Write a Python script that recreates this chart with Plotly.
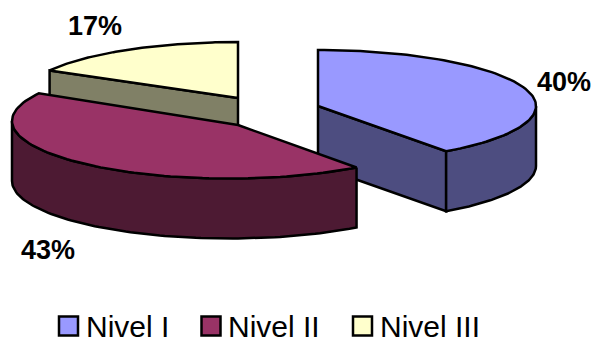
import math
import plotly.graph_objects as go

# Chart data
categories = ["Nivel I", "Nivel II", "Nivel III"]
shares = [40, 43, 17]
top_colors = ["#9999FF", "#993366", "#FFFFCC"]
side_colors = ["#4D4D80", "#4D1A33", "#808066"]

# Oblique-view geometry of each exploded slice, in canvas units:
# apex of the wedge, centre of its rim ellipse, and the ellipse radii
apex = [(318, 106), (238, 125), (238, 98)]
rim_center = [(318, 106), (229, 121), (238, 97)]
rim_radii = [(218, 56), (217, 57.5), (215, 55)]
depth = 60
label_pos = [(564, 82), (48, 250), (95, 26)]
swatch_x = [68.5, 211, 362.5]
legend_text_x = [84, 226, 378]
legend_y = 326

LINE_WIDTH = 2.5


def rim(i, start, end, dy=0, steps=90):
    """Points along slice i's rim between two clockwise angles from 12 o'clock."""
    cx, cy = rim_center[i]
    a, b = rim_radii[i]
    angles = [math.radians(start + (end - start) * k / steps) for k in range(steps + 1)]
    return [(cx + a * math.sin(t), cy - b * math.cos(t) + dy) for t in angles]


def polygon(points, color, name):
    xs = [p[0] for p in points] + [points[0][0]]
    ys = [p[1] for p in points] + [points[0][1]]
    return go.Scatter(x=xs, y=ys, mode="lines", fill="toself", fillcolor=color,
                      line=dict(color="black", width=LINE_WIDTH, shape="linear"),
                      name=name, showlegend=False, hoverinfo="skip")


# Cumulative angles of each slice
angles = []
start = 0.0
for s in shares:
    end = start + s * 360 / sum(shares)
    angles.append((start, end))
    start = end

# The radial cut that faces the viewer: trailing edge for the right slice,
# leading edge for the rear slice, none for the front slice
cut_angle = [angles[0][1], None, angles[2][0]]


def walls(i):
    """Visible side faces of slice i, back to front."""
    s, e = angles[i]
    ax, ay = apex[i]
    faces = []
    if cut_angle[i] is not None:
        rim_pt = rim(i, cut_angle[i], cut_angle[i], steps=1)[0]
        faces.append([(ax, ay), rim_pt, (rim_pt[0], rim_pt[1] + depth), (ax, ay + depth)])
    lo, hi = max(s, 90), min(e, 270)
    if hi > lo:
        # Curved outer wall on the viewer's side
        faces.append(rim(i, lo, hi) + rim(i, lo, hi, dy=depth)[::-1])
    return faces


def top(i):
    s, e = angles[i]
    return [apex[i]] + rim(i, s, e)


fig = go.Figure()
# Painter's order: rear slice, right slice, then the front slice
for i in [2, 0, 1]:
    for face in walls(i):
        fig.add_trace(polygon(face, side_colors[i], categories[i]))
    fig.add_trace(polygon(top(i), top_colors[i], categories[i]))

# Legend swatches
fig.add_trace(go.Scatter(
    x=swatch_x, y=[legend_y] * 3, mode="markers", showlegend=False, hoverinfo="skip",
    marker=dict(symbol="square", size=19, color=top_colors,
                line=dict(color="black", width=LINE_WIDTH)),
))

annotations = []
for (x, y), s in zip(label_pos, shares):
    annotations.append(dict(x=x, y=y, text=f"{s}%", showarrow=False, xanchor="center",
                            yanchor="middle",
                            font=dict(family="Liberation Sans", size=27, color="black", weight="bold")))
for x, name in zip(legend_text_x, categories):
    annotations.append(dict(x=x, y=legend_y, text=name, showarrow=False, xanchor="left",
                            yanchor="middle",
                            font=dict(family="Liberation Sans", size=30, color="black")))

fig.update_layout(
    width=592, height=338, autosize=False,
    margin=dict(l=0, r=0, t=0, b=0),
    paper_bgcolor="white", plot_bgcolor="white",
    xaxis=dict(range=[0, 592], visible=False, fixedrange=True),
    yaxis=dict(range=[338, 0], visible=False, fixedrange=True),
    annotations=annotations,
    showlegend=False,
)

fig.write_html("out.html", config=dict(displayModeBar=False))
